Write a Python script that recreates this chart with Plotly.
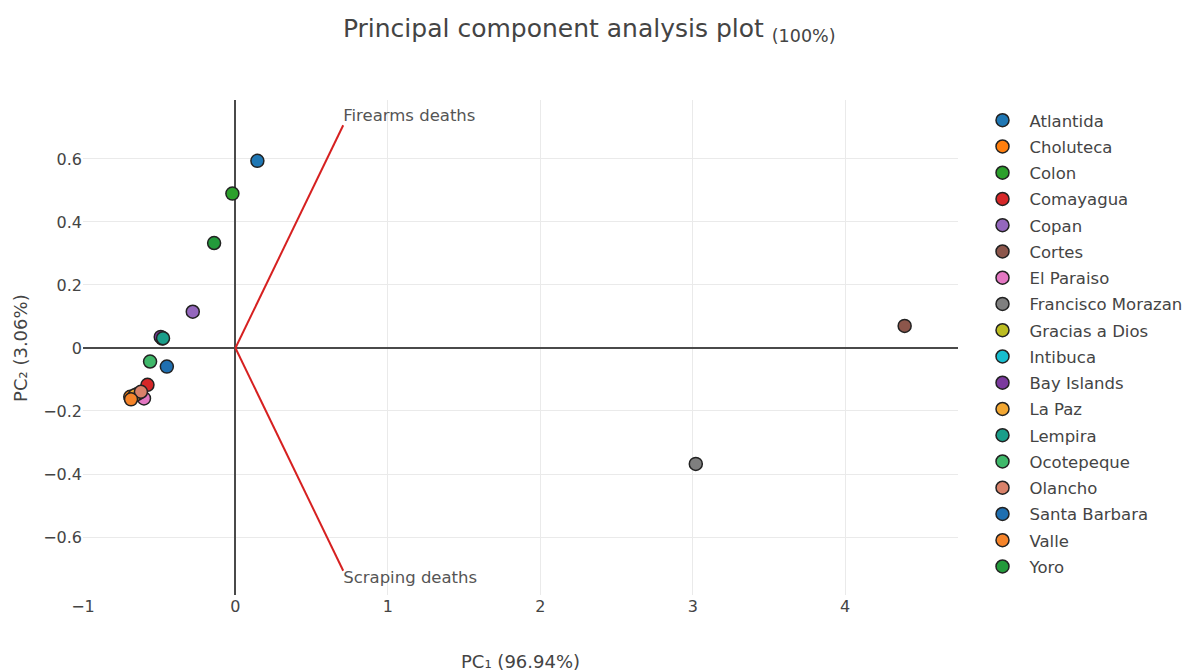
import plotly.graph_objects as go

departments = ["Atlantida", "Choluteca", "Colon", "Comayagua", "Copan", "Cortes",
               "El Paraiso", "Francisco Morazan", "Gracias a Dios", "Intibuca",
               "Bay Islands", "La Paz", "Lempira", "Ocotepeque", "Olancho",
               "Santa Barbara", "Valle", "Yoro"]
pc1 = [0.144, -0.69, -0.02, -0.577, -0.28, 4.39, -0.60, 3.02, -0.64, -0.48,
       -0.49, -0.66, -0.475, -0.56, -0.62, -0.45, -0.685, -0.14]
pc2 = [0.594, -0.155, 0.49, -0.117, 0.115, 0.07, -0.16, -0.368, -0.145, 0.03,
       0.035, -0.15, 0.031, -0.043, -0.139, -0.059, -0.163, 0.333]
colors = ["#1f77b4", "#ff7f0e", "#2ca02c", "#d62728", "#9467bd", "#8c564b",
          "#e377c2", "#7f7f7f", "#bcbd22", "#17becf", "#7b3a9e", "#f2a732",
          "#1a9e8a", "#3fb86a", "#d9826a", "#1f6fb0", "#f5842a", "#239a3b"]

variables = ["Firearms deaths", "Scraping deaths"]
load_x = [0.707, 0.707]
load_y = [0.707, -0.707]

FONT = "DejaVu Sans, Verdana, sans-serif"

fig = go.Figure()

for i, (vx, vy, name) in enumerate(zip(load_x, load_y, variables)):
    fig.add_trace(go.Scatter(
        x=[0, vx], y=[0, vy], mode="lines+text",
        text=["", name],
        textposition="top right" if vy > 0 else "bottom right",
        textfont=dict(size=16.5, color="#555", family=FONT),
        line=dict(color="#d62020", width=2),
        showlegend=False, hoverinfo="skip", cliponaxis=False))

for i, name in enumerate(departments):
    fig.add_trace(go.Scatter(
        x=[pc1[i]], y=[pc2[i]], mode="markers", name=name,
        legendgroup=name,
        marker=dict(size=13, color=colors[i],
                    line=dict(color="#222", width=1.5))))

fig.update_layout(
    width=1191, height=672,
    paper_bgcolor="white", plot_bgcolor="white",
    font=dict(family=FONT, color="#444", size=16),
    title=dict(text="Principal component analysis plot <sub>(100%)</sub>",
               x=0.488, xanchor="center", y=0.970, yanchor="middle",
               font=dict(size=25, family=FONT, color="#444")),
    margin=dict(l=75, r=236, t=92, b=85),
    xaxis=dict(range=[-1.0, 4.74], dtick=1, showgrid=True, gridcolor="#eaeaea",
               zeroline=True, zerolinecolor="#4a4a4a", zerolinewidth=2,
               showline=False, ticks="", tickfont=dict(size=16),
               automargin=False),
    yaxis=dict(range=[-0.784, 0.787], dtick=0.2, showgrid=True, gridcolor="#eaeaea",
               zeroline=True, zerolinecolor="#4a4a4a", zerolinewidth=2,
               showline=False, ticks="", tickfont=dict(size=16),
               automargin=False),
    annotations=[
        dict(text="PC₁ (96.94%)", xref="paper", yref="paper", x=0.5, y=-0.135,
             xanchor="center", yanchor="middle", showarrow=False,
             font=dict(size=18, color="#444")),
        dict(text="PC₂ (3.06%)", xref="paper", yref="paper", x=-0.0715, y=0.5,
             xanchor="center", yanchor="middle", showarrow=False, textangle=-90,
             font=dict(size=18, color="#444")),
    ],
    legend=dict(x=1.02, y=0.994, xanchor="left", yanchor="top",
                font=dict(size=16.5, color="#444"), tracegroupgap=1.8,
                itemwidth=44, maxheight=1, bgcolor="rgba(0,0,0,0)"),
    showlegend=True,
)

fig.write_html("out.html")
